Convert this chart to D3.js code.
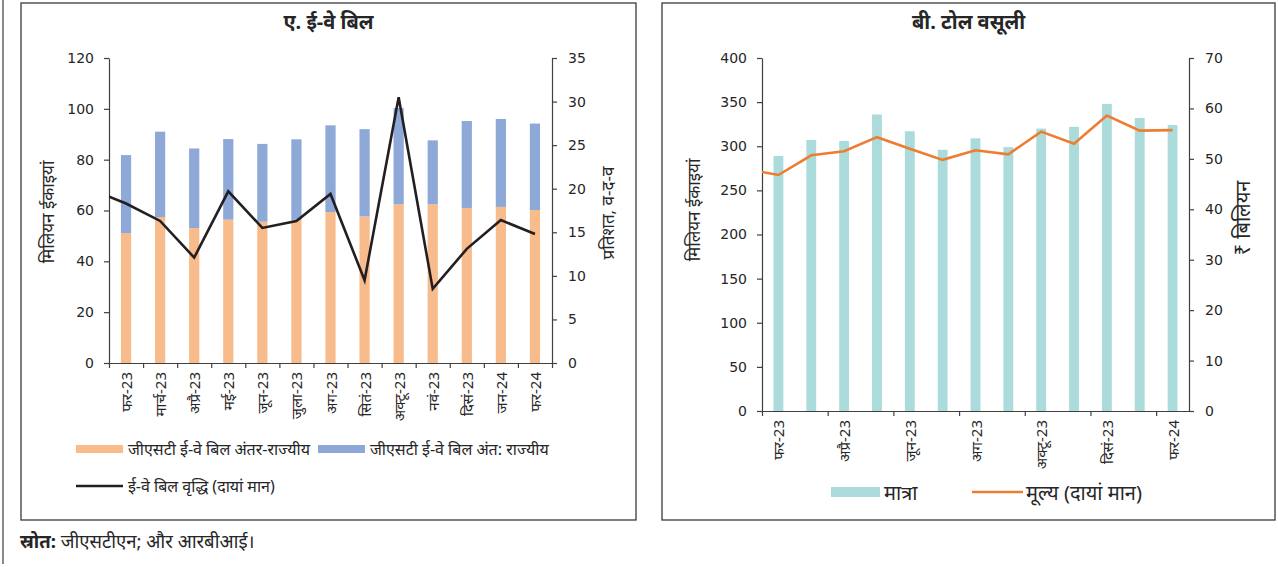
<!DOCTYPE html>
<html>
<head>
<meta charset="utf-8">
<script src="https://cdn.jsdelivr.net/npm/d3@7"></script>
<style>
    body { margin: 0; background: #fff; }
    text { font-family: "Noto Sans", "Noto Sans Devanagari", "Lohit Devanagari", sans-serif; fill: #262626; }
    .num text, text.num { font-family: "DejaVu Sans", Verdana, sans-serif; }
</style>
</head>
<body>
<svg id="chart" width="1278" height="567"></svg>
<script>

// Panel A: e-way bills (million units, growth in % y-o-y)
var ewayMonths = ["फर-23", "मार्च-23", "अप्रै-23", "मई-23", "जून-23", "जुला-23", "अग-23",
    "सितं-23", "अक्टू-23", "नवं-23", "दिसं-23", "जन-24", "फर-24"];
var ewayInter = [51.1, 57.4, 53.1, 56.4, 55.6, 56.3, 59.4, 57.7, 62.5, 62.5, 61.0, 61.4, 60.2];
var ewayIntra = [30.7, 33.6, 31.3, 31.7, 30.6, 31.7, 34.1, 34.3, 37.8, 25.1, 34.2, 34.6, 34.0];
var ewayGrowth = [18.3, 16.3, 12.1, 19.7, 15.5, 16.3, 19.4, 9.5, 30.5, 8.5, 13.1, 16.4, 14.8];
var ewayGrowthPrev = 19.9;   // Jan-23, only the clipped lead-in shows
var ewayLeftTicks = [0, 20, 40, 60, 80, 100, 120];
var ewayRightTicks = [0, 5, 10, 15, 20, 25, 30, 35];

// Panel B: toll collection (million units, value in Rs billion)
var tollMonths = ewayMonths.slice();
var tollVolume = [289, 307, 306, 336, 317, 296, 309, 299, 320, 322, 348, 332, 324];
var tollValue = [46.8, 50.7, 51.5, 54.3, 52.0, 49.8, 51.7, 50.9, 55.4, 53.0, 58.6, 55.6, 55.7];
var tollValuePrev = 48.0;
var tollLeftTicks = [0, 50, 100, 150, 200, 250, 300, 350, 400];
var tollRightTicks = [0, 10, 20, 30, 40, 50, 60, 70];

var dashboard = (function () {

    "use strict";

    var svg = d3.select("#chart"),
        axisColor = "#404040";

    function drawPanel(x0, x1, title) {
        svg.append("rect")
            .attr("x", x0).attr("y", 3)
            .attr("width", x1 - x0).attr("height", 517)
            .attr("fill", "none")
            .attr("stroke", "#3a3a3a")
            .attr("stroke-width", 1.3);

        svg.append("text")
            .attr("x", (x0 + x1) / 2).attr("y", 29)
            .attr("text-anchor", "middle")
            .attr("font-size", 20)
            .attr("font-weight", "bold")
            .text(title);
    }

    function styleAxis(g) {
        g.selectAll("path, line").attr("stroke", axisColor).attr("stroke-width", 1.2);
        g.selectAll("text").attr("font-size", 14).attr("fill", "#333");
        g.attr("class", "num");
    }

    function axisTitle(x, y, label, size) {
        svg.append("text")
            .attr("transform", "translate(" + x + "," + y + ") rotate(-90)")
            .attr("text-anchor", "middle")
            .attr("dominant-baseline", "central")
            .attr("font-size", size || 17)
            .text(label);
    }

    function legendText(x, y, label, size) {
        svg.append("text")
            .attr("x", x).attr("y", y)
            .attr("dominant-baseline", "central")
            .attr("font-size", size)
            .text(label);
    }

    /* shared frame: band scale, two y axes, clip */
    function createFrame(p) {
        var n = p.months.length,
            x = d3.scaleBand().domain(p.months)
                .range([p.left, p.right])
                .paddingInner(0.7).paddingOuter(0.35),
            xi = d3.scaleLinear().domain([0, n]).range([p.left, p.right]),
            yL = d3.scaleLinear().domain(p.leftDomain).range([p.bottom, p.top]),
            yR = d3.scaleLinear().domain(p.rightDomain).range([p.bottom, p.top]);

        svg.append("g")
            .attr("transform", "translate(" + p.left + ",0)")
            .call(d3.axisLeft(yL).tickValues(p.leftTicks).tickSize(5).tickSizeOuter(0).tickPadding(10))
            .call(styleAxis);

        svg.append("g")
            .attr("transform", "translate(" + p.right + ",0)")
            .call(d3.axisRight(yR).tickValues(p.rightTicks).tickSize(5).tickSizeOuter(0).tickPadding(11))
            .call(styleAxis);

        var id = "clip" + p.left;
        svg.append("clipPath").attr("id", id)
            .append("rect")
            .attr("x", p.left).attr("y", p.top)
            .attr("width", p.right - p.left).attr("height", p.bottom - p.top);

        return {x: x, xi: xi, yL: yL, yR: yR, n: n, clip: "url(#" + id + ")"};
    }

    function drawBottomAxis(p, f) {
        svg.append("g")
            .attr("transform", "translate(0," + p.bottom + ")")
            .call(d3.axisBottom(f.xi)
                .tickValues(d3.range(0, f.n + 1, p.tickEvery))
                .tickFormat("").tickSize(5).tickSizeOuter(0))
            .call(styleAxis);

        svg.append("g").selectAll("text")
            .data(p.months.filter(function (d, i) { return i % p.tickEvery === 0; }))
            .enter()
            .append("text")
            .attr("transform", function (d) {
                return "translate(" + (f.x(d) + f.x.bandwidth() / 2) + "," + (p.bottom + 9) + ") rotate(-90)";
            })
            .attr("text-anchor", "end")
            .attr("dominant-baseline", "central")
            .attr("font-size", 15)
            .attr("fill", "#333")
            .text(function (d) { return d; });
    }

    function drawLine(f, yScale, prev, values, color) {
        var pts = [prev].concat(values).map(function (v, i) {
            return {i: i - 1, v: v};
        });
        var cx = function (i) {
            return f.x(f.x.domain()[0]) + f.x.bandwidth() / 2 + i * f.x.step();
        };
        svg.append("path")
            .datum(pts)
            .attr("clip-path", f.clip)
            .attr("fill", "none")
            .attr("stroke", color)
            .attr("stroke-width", 2.6)
            .attr("d", d3.line()
                .x(function (d) { return cx(d.i); })
                .y(function (d) { return yScale(d.v); }));
    }

    /* Panel A */
    function createEwayChart() {
        var p = {
                months: ewayMonths, left: 109, right: 552, top: 58, bottom: 363,
                leftDomain: [0, 120], rightDomain: [0, 35],
                leftTicks: ewayLeftTicks, rightTicks: ewayRightTicks, tickEvery: 1
            },
            f;

        drawPanel(21, 636, "ए. ई-वे बिल");
        f = createFrame(p);

        var bars = svg.append("g");
        bars.selectAll(".inter")
            .data(ewayMonths)
            .enter()
            .append("rect")
            .attr("x", function (d) { return f.x(d); })
            .attr("width", f.x.bandwidth())
            .attr("y", function (d, i) { return f.yL(ewayInter[i]); })
            .attr("height", function (d, i) { return f.yL(0) - f.yL(ewayInter[i]); })
            .attr("fill", "#F8BB8C");

        bars.selectAll(".intra")
            .data(ewayMonths)
            .enter()
            .append("rect")
            .attr("x", function (d) { return f.x(d); })
            .attr("width", f.x.bandwidth())
            .attr("y", function (d, i) { return f.yL(ewayInter[i] + ewayIntra[i]); })
            .attr("height", function (d, i) { return f.yL(ewayInter[i]) - f.yL(ewayInter[i] + ewayIntra[i]); })
            .attr("fill", "#8EA9D8");

        drawBottomAxis(p, f);
        drawLine(f, f.yR, ewayGrowthPrev, ewayGrowth, "#231F20");

        axisTitle(47, 212, "मिलियन ईकाइयां");
        axisTitle(607, 213, "प्रतिशत, व-द-व");

        // legend
        svg.append("rect").attr("x", 76).attr("y", 445).attr("width", 47).attr("height", 8).attr("fill", "#F8BB8C");
        legendText(128, 449, "जीएसटी ई-वे बिल अंतर-राज्यीय", 16);
        svg.append("rect").attr("x", 318).attr("y", 445).attr("width", 47).attr("height", 8).attr("fill", "#8EA9D8");
        legendText(370, 449, "जीएसटी ई-वे बिल अंत: राज्यीय", 16);
        svg.append("line").attr("x1", 76).attr("x2", 123).attr("y1", 486).attr("y2", 486)
            .attr("stroke", "#231F20").attr("stroke-width", 2.6);
        legendText(128, 486, "ई-वे बिल वृद्धि (दायां मान)", 16);
    }

    /* Panel B */
    function createTollChart() {
        var p = {
                months: tollMonths, left: 762, right: 1189, top: 58, bottom: 411,
                leftDomain: [0, 400], rightDomain: [0, 70],
                leftTicks: tollLeftTicks, rightTicks: tollRightTicks, tickEvery: 2
            },
            f;

        drawPanel(662, 1275, "बी. टोल वसूली");
        f = createFrame(p);

        svg.append("g").selectAll("rect")
            .data(tollMonths)
            .enter()
            .append("rect")
            .attr("x", function (d) { return f.x(d); })
            .attr("width", f.x.bandwidth())
            .attr("y", function (d, i) { return f.yL(tollVolume[i]); })
            .attr("height", function (d, i) { return f.yL(0) - f.yL(tollVolume[i]); })
            .attr("fill", "#ABDCDB");

        drawBottomAxis(p, f);
        drawLine(f, f.yR, tollValuePrev, tollValue, "#ED7D31");

        axisTitle(693, 210, "मिलियन ईकाइयां");
        axisTitle(1242, 218, "₹ बिलियन", 20);

        svg.append("rect").attr("x", 831).attr("y", 487).attr("width", 49).attr("height", 10).attr("fill", "#ABDCDB");
        legendText(884, 492, "मात्रा", 20);
        svg.append("line").attr("x1", 972).attr("x2", 1023).attr("y1", 492).attr("y2", 492)
            .attr("stroke", "#ED7D31").attr("stroke-width", 2.6);
        legendText(1026, 492, "मूल्य (दायां मान)", 20);
    }

    function render() {
        // page edge rule on the far left
        svg.append("line").attr("x1", 3).attr("x2", 3).attr("y1", 0).attr("y2", 564)
            .attr("stroke", "#3a3a3a").attr("stroke-width", 1.2);

        createEwayChart();
        createTollChart();

        var src = svg.append("text").attr("x", 20).attr("y", 548).attr("font-size", 18.5);
        src.append("tspan").attr("font-weight", "bold").text("स्रोत:");
        src.append("tspan").text(" जीएसटीएन; और आरबीआई।");
    }

    return {
        render: render
    };

}());

dashboard.render();
</script>
</body>
</html>
